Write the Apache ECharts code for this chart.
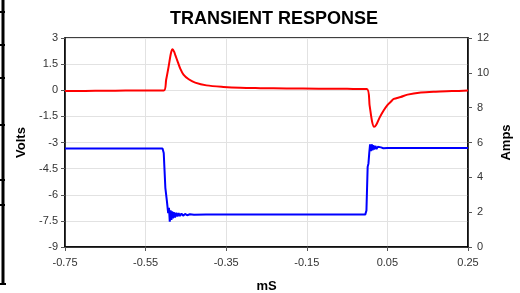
<!DOCTYPE html>
<html>
<head>
<meta charset="utf-8">
<script src="https://cdn.jsdelivr.net/npm/echarts@6/dist/echarts.min.js"></script>
<style>
    html, body { margin: 0; padding: 0; background: #fff; }
    #chart { width: 520px; height: 293px; }
</style>
</head>
<body>
<div id="chart"></div>
<script>
// voltage trace (left axis)
const voltsT = [-0.75, -0.70, -0.65, -0.60, -0.55, -0.505, -0.499, -0.493, -0.487, -0.483, -0.479, -0.476, -0.470,
    -0.464, -0.456, -0.443, -0.427, -0.399, -0.357, -0.315, -0.265, -0.20, -0.12, -0.05, -0.001,
    0.006, 0.012, 0.017, 0.022, 0.030, 0.041, 0.050, 0.058, 0.066, 0.083, 0.10, 0.133, 0.17, 0.21, 0.25]
const voltsV = [-0.05, -0.04, -0.03, -0.02, -0.02, -0.02, 0.6, 1.34, 2.14, 2.35, 2.2, 2.0, 1.62,
    1.24, 0.9, 0.63, 0.44, 0.28, 0.19, 0.14, 0.12, 0.1, 0.09, 0.08, 0.07,
    -0.9, -1.8, -2.1, -2.0, -1.6, -1.15, -0.85, -0.67, -0.5, -0.39, -0.25, -0.13, -0.08, -0.05, -0.02]

// current trace (right axis)
const ampsT = [-0.75, -0.65, -0.55, -0.508, -0.505, -0.503, -0.501, -0.499, -0.497, -0.494,
    -0.492, -0.490, -0.488, -0.486, -0.484, -0.482, -0.480, -0.477, -0.474, -0.471, -0.468, -0.465,
    -0.461, -0.457, -0.452, -0.447, -0.44, -0.43, -0.40, -0.30, -0.20, -0.10, -0.005,
    -0.002, 0.001, 0.003, 0.005, 0.007, 0.009, 0.011, 0.013, 0.015, 0.017, 0.020, 0.023, 0.026,
    0.030, 0.034, 0.040, 0.05, 0.10, 0.15, 0.20, 0.25]
const ampsA = [5.65, 5.65, 5.65, 5.65, 5.4, 4.4, 3.4, 3.3, 2.6, 1.95,
    2.25, 1.45, 2.1, 1.55, 2.05, 1.65, 2.0, 1.7, 1.97, 1.75, 1.94, 1.78,
    1.92, 1.8, 1.9, 1.82, 1.88, 1.85, 1.86, 1.86, 1.86, 1.86, 1.86,
    2.1, 4.6, 4.8, 5.4, 5.9, 5.5, 5.9, 5.55, 5.85, 5.6, 5.8, 5.62, 5.75,
    5.65, 5.72, 5.67, 5.69, 5.68, 5.68, 5.68, 5.68]

const chart = echarts.init(document.getElementById('chart'))

const labelStyle = {
    color: '#333',
    fontSize: 11,
    fontFamily: 'Liberation Sans, Arial, sans-serif'
}
const nameStyle = {
    color: '#000',
    fontSize: 13,
    fontWeight: 'bold',
    fontFamily: 'Liberation Sans, Arial, sans-serif'
}

chart.setOption({
    animation: false,
    title: {
        text: 'TRANSIENT RESPONSE',
        left: 165,
        top: 5,
        textStyle: {
            color: '#000',
            fontSize: 18,
            fontWeight: 'bold',
            fontFamily: 'Liberation Sans, Arial, sans-serif'
        }
    },
    grid: {
        left: 65,
        right: 52,
        top: 38,
        bottom: 46,
        outerBoundsMode: 'none',
        containLabel: false,
        show: true,
        borderColor: '#000',
        borderWidth: 1.5
    },
    xAxis: {
        type: 'value',
        min: -0.75,
        max: 0.25,
        interval: 0.2,
        name: 'mS',
        nameLocation: 'middle',
        nameGap: 33,
        nameTextStyle: nameStyle,
        axisLine: { show: true, onZero: false, lineStyle: { color: '#000', width: 1.5 } },
        axisTick: { show: true, length: 4, lineStyle: { color: '#555' } },
        axisLabel: Object.assign({ margin: 10, formatter: v => v.toFixed(2) }, labelStyle),
        splitLine: { show: true, lineStyle: { color: '#e2e2e2', width: 1 } }
    },
    yAxis: [
        {
            type: 'value',
            min: -9,
            max: 3,
            interval: 1.5,
            name: 'Volts',
            nameLocation: 'middle',
            nameGap: 35,
            nameTextStyle: nameStyle,
            axisLine: { show: true, onZero: false, lineStyle: { color: '#000', width: 1.5 } },
            axisTick: { show: true, length: 4, lineStyle: { color: '#555' } },
            axisLabel: Object.assign({ margin: 7 }, labelStyle),
            splitLine: { show: true, lineStyle: { color: '#e2e2e2', width: 1 } }
        },
        {
            type: 'value',
            position: 'right',
            min: 0,
            max: 12,
            interval: 2,
            name: 'Amps',
            nameLocation: 'middle',
            nameGap: 30,
            nameTextStyle: nameStyle,
            axisLine: { show: true, onZero: false, lineStyle: { color: '#000', width: 1.5 } },
            axisTick: { show: true, length: 4, lineStyle: { color: '#555' } },
            axisLabel: Object.assign({ margin: 9 }, labelStyle),
            splitLine: { show: false }
        }
    ],
    series: [
        {
            name: 'Volts',
            type: 'line',
            yAxisIndex: 0,
            symbol: 'none',
            smooth: 0.3,
            data: voltsT.map((t, i) => [t, voltsV[i]]),
            lineStyle: { color: '#ff0000', width: 2 },
            z: 3
        },
        {
            name: 'Amps',
            type: 'line',
            yAxisIndex: 1,
            symbol: 'none',
            data: ampsT.map((t, i) => [t, ampsA[i]]),
            lineStyle: { color: '#0000ff', width: 2 },
            z: 2
        }
    ],
    graphic: [
        // black frame fragment on the left edge of the original image
        { type: 'line', shape: { x1: 3, y1: 0, x2: 3, y2: 285 }, style: { stroke: '#000', lineWidth: 3 } },
        { type: 'line', shape: { x1: 0, y1: 12, x2: 5, y2: 12 }, style: { stroke: '#000', lineWidth: 2 } },
        { type: 'line', shape: { x1: 0, y1: 45, x2: 5, y2: 45 }, style: { stroke: '#000', lineWidth: 2 } },
        { type: 'line', shape: { x1: 0, y1: 78, x2: 5, y2: 78 }, style: { stroke: '#000', lineWidth: 2 } },
        { type: 'line', shape: { x1: 0, y1: 125, x2: 5, y2: 125 }, style: { stroke: '#000', lineWidth: 2 } },
        { type: 'line', shape: { x1: 0, y1: 180, x2: 5, y2: 180 }, style: { stroke: '#000', lineWidth: 2 } },
        { type: 'line', shape: { x1: 0, y1: 205, x2: 5, y2: 205 }, style: { stroke: '#000', lineWidth: 2 } },
        { type: 'line', shape: { x1: 0, y1: 284, x2: 6, y2: 284 }, style: { stroke: '#000', lineWidth: 2 } }
    ]
})
</script>
</body>
</html>
